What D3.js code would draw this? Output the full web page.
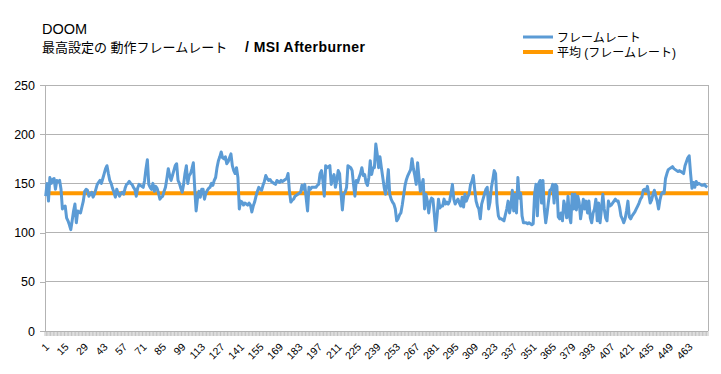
<!DOCTYPE html>
<html><head><meta charset="utf-8">
<script src="https://cdn.jsdelivr.net/npm/d3@7"></script>
<style>
html,body{margin:0;padding:0;background:#fff;}
svg{display:block;}
text{font-family:"Liberation Sans","Noto Sans CJK JP",Arial,sans-serif;}
</style></head>
<body><svg id="c" width="721" height="374"></svg>
<script>
const titleText = "DOOM";
const subtitleJa = "最高設定の 動作フレームレート";
const subtitleEn = "/ MSI Afterburner";
const seriesNames = ["フレームレート", "平均 (フレームレート)"];
const averageValue = 140;
const yTicks = [0, 50, 100, 150, 200, 250];
const xTickLabels = [1,15,29,43,57,71,85,99,113,127,141,155,169,183,197,211,225,239,253,267,281,295,309,323,337,351,365,379,393,407,421,435,449,463];

const frameRateA = [137,150,132,156,150,154,155,144,153,152,153,144,124,126,127,115,112,108,103,112,122,129,110,122,121,120,126,132,142,144,
143,137,139,141,136,139,144,149,151,153,150,155,160,165,168,160,153,150,145,141,136,144,140,137,140,141,139,145,149,150,
152,150,149,146,144,137,145,149,148,147,146,153,165,174,149,146,144,150,142,147,145,140,134,136,137,142,146,155,165,158,
153,158,163,168,170,153,150,145,141,149,160,168,150,158,160,165,171,145,122,135,142,136,144,144,134,140,143,145,146,150,
148,153,156,166,173,177,182,176,175,177,170,172,176,180,168,163,160,166,156,124,132,131,128,130,129,128,130,128,121,127,
131,137,142,146,144,143,148,152];
const frameRateB = [158,155,153,154,152,151,150,149,153,152,151,153,152,153,154,155,160,142,131,133,134,137,138,139,140,141,148,144,149,135,
122,146,144,146,146,146,146,148,149,160,163,153,137,168,166,167,168,149,155,159,146,153,163,160,140,123,139,141,146,168,
167,166,163,149,137,153,151,156,160,166,158,159,151,148,156,173,159,166,166,190,180,166,177,166,156,146,139,149,164,139,
134,131,129,124,112,114,118,120,128,138,148,154,158,161,164,175,165,158,149,171,156,142,148,154,124,139,132,120,131,135,
134,119,102,117,134,125,127,127,134,129,131,129,132,140,149,134,129,132,134,130,127,136,126,139,132,136,139,149,152,158,
144,132,127,124,114,129,134,139,144,146];
const frameRateC = [124,131,146,154,163,160,130,117,114,114,113,112,118,124,132,120,127,143,122,139,120,156,135,140,117,110,110,110,109,110,
109,108,109,139,149,117,150,153,130,153,124,110,120,132,143,144,149,130,149,147,116,114,120,112,132,126,115,137,117,110,
139,124,139,123,137,131,114,124,134,124,132,120,132,115,110,120,124,134,112,130,110,124,139,124,115,112,132,127,128,130,
132,134,132,132,126,117,114,110,114,122,132,116,114,117,119,121,124,127,130,134,136,143,144,142,147,139,130,133,139,143,
137,132,124,133,139,141,140,155,160,164,165,166,167,165,164,163,162,163,162,161,160,168,172,176,178,160,145,151,146,152,
149,150,149,148,148,149,147,146];
const frameRate = frameRateA.concat(frameRateB, frameRateC);
const categories = d3.range(1, frameRate.length + 1);

const svg = d3.select("#c");
const plot = {left: 45, right: 708, top: 85, bottom: 331};
const x = d3.scaleBand().domain(categories).range([plot.left, plot.right]).padding(0);
const y = d3.scaleLinear().domain([0, 250]).range([plot.bottom, plot.top]);
const grid = "#b3b3b3";

// gridlines
svg.append("g").selectAll("line").data(yTicks.filter(d => d > 0)).join("line")
  .attr("x1", plot.left).attr("x2", plot.right)
  .attr("y1", d => y(d)).attr("y2", d => y(d))
  .attr("stroke", grid).attr("stroke-width", 1).attr("shape-rendering", "crispEdges");

// y axis
const yAxis = d3.axisLeft(y).tickValues(yTicks).tickSize(5).tickPadding(5).tickFormat(d3.format("d"));
const gy = svg.append("g").attr("transform", `translate(${plot.left},0)`).call(yAxis);
gy.select(".domain").attr("stroke", grid).attr("shape-rendering", "crispEdges");
gy.selectAll(".tick line").attr("stroke", grid).attr("shape-rendering", "crispEdges");
gy.selectAll(".tick text").attr("font-size", 12.5).attr("fill", "#000")
  .attr("font-family", "Liberation Sans, Arial, sans-serif");

// right border
svg.append("line").attr("x1", plot.right).attr("x2", plot.right).attr("y1", plot.top).attr("y2", plot.bottom)
  .attr("stroke", grid).attr("shape-rendering", "crispEdges");

// x axis: ticks between every category
const step = x.step();
const xb = svg.append("g");
xb.append("line").attr("x1", plot.left).attr("x2", plot.right).attr("y1", plot.bottom).attr("y2", plot.bottom)
  .attr("stroke", grid).attr("shape-rendering", "crispEdges");
xb.selectAll("line.t").data(categories.concat([categories.length + 1])).join("line").attr("class", "t")
  .attr("x1", (d, i) => plot.left + i * step).attr("x2", (d, i) => plot.left + i * step)
  .attr("y1", plot.bottom).attr("y2", plot.bottom + 5)
  .attr("stroke", grid).attr("stroke-width", 0.8);
xb.selectAll("text").data(xTickLabels).join("text")
  .attr("transform", d => `translate(${x(d) + step / 2 + 1.5},345) rotate(-45)`)
  .attr("text-anchor", "end").attr("dy", "0.35em")
  .attr("font-size", 10.5).attr("fill", "#000")
  .text(d => d);

// average line
svg.append("line")
  .attr("x1", plot.left).attr("x2", plot.right)
  .attr("y1", y(averageValue)).attr("y2", y(averageValue))
  .attr("stroke", "#ff9900").attr("stroke-width", 4);

// frame rate line
const line = d3.line().x((d, i) => x(categories[i]) + step / 2).y(d => y(d));
svg.append("path").datum(frameRate).attr("d", line)
  .attr("fill", "none").attr("stroke", "#5b9bd5").attr("stroke-width", 3)
  .attr("stroke-linejoin", "round");

// titles
svg.append("text").attr("x", 42).attr("y", 33.5).attr("font-size", 14.5).attr("fill", "#000").text(titleText);
svg.append("text").attr("x", 42).attr("y", 51.5).attr("font-size", 13).attr("fill", "#000")
  .attr("font-family", "Noto Sans CJK JP, sans-serif").text(subtitleJa);
svg.append("text").attr("x", 245).attr("y", 51.5).attr("font-size", 14).attr("font-weight", "bold")
  .attr("fill", "#000").attr("textLength", 120).attr("lengthAdjust", "spacing").text(subtitleEn);

// legend
const lg = svg.append("g");
const legendColors = ["#5b9bd5", "#ff9900"];
const legendY = [37, 52];
seriesNames.forEach((name, i) => {
  lg.append("line").attr("x1", 523).attr("x2", 553).attr("y1", legendY[i]).attr("y2", legendY[i])
    .attr("stroke", legendColors[i]).attr("stroke-width", i === 0 ? 3 : 4);
  lg.append("text").attr("x", 557).attr("y", legendY[i] + 4.5).attr("font-size", 12)
    .attr("font-family", "Noto Sans CJK JP, sans-serif").attr("fill", "#000").text(name);
});
</script></body></html>
